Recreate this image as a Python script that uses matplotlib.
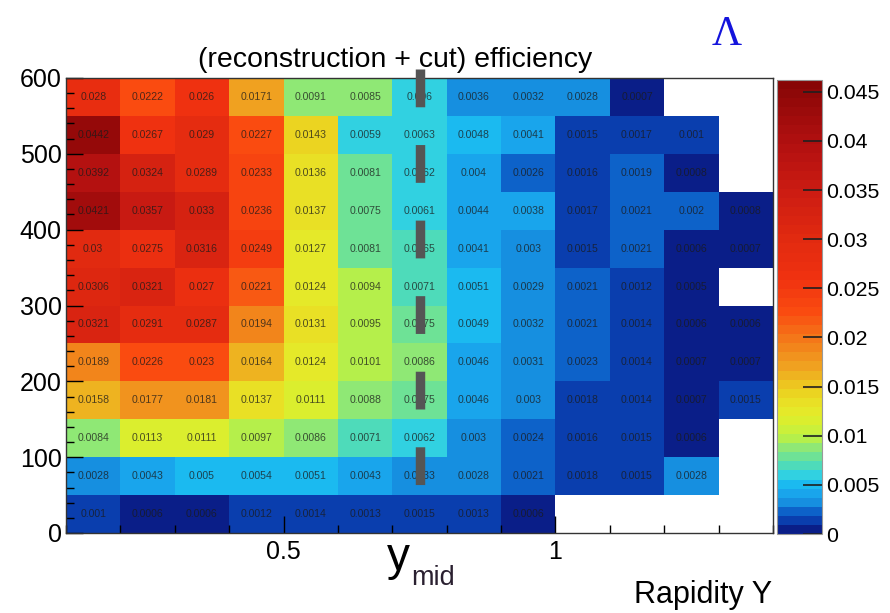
import numpy as np
import matplotlib
matplotlib.use("Agg")
import matplotlib.pyplot as plt
from matplotlib.colors import LinearSegmentedColormap, to_rgb
from matplotlib.ticker import MultipleLocator, FixedLocator, FixedFormatter

plt.rcParams['font.family'] = ['Liberation Sans', 'DejaVu Sans']

# Rapidity bin edges and transverse-momentum bin edges
y_edges = [0.1, 0.2, 0.3, 0.4, 0.5, 0.6, 0.7, 0.8, 0.9, 1.0, 1.1, 1.2, 1.3, 1.4]
pt_edges = [0, 50, 100, 150, 200, 250, 300, 350, 400, 450, 500, 550, 600]

nan = np.nan
# Efficiency per cell, rows from pt 0-50 (bottom) to 550-600 (top)
eff_pt0 = [0.001, 0.0006, 0.0006, 0.0012, 0.0014, 0.0013, 0.0015, 0.0013, 0.0006, nan, nan, nan, nan]
eff_pt1 = [0.0028, 0.0043, 0.005, 0.0054, 0.0051, 0.0043, 0.0033, 0.0028, 0.0021, 0.0018, 0.0015, 0.0028, nan]
eff_pt2 = [0.0084, 0.0113, 0.0111, 0.0097, 0.0086, 0.0071, 0.0062, 0.003, 0.0024, 0.0016, 0.0015, 0.0006, nan]
eff_pt3 = [0.0158, 0.0177, 0.0181, 0.0137, 0.0111, 0.0088, 0.0075, 0.0046, 0.003, 0.0018, 0.0014, 0.0007, 0.0015]
eff_pt4 = [0.0189, 0.0226, 0.023, 0.0164, 0.0124, 0.0101, 0.0086, 0.0046, 0.0031, 0.0023, 0.0014, 0.0007, 0.0007]
eff_pt5 = [0.0321, 0.0291, 0.0287, 0.0194, 0.0131, 0.0095, 0.0075, 0.0049, 0.0032, 0.0021, 0.0014, 0.0006, 0.0006]
eff_pt6 = [0.0306, 0.0321, 0.027, 0.0221, 0.0124, 0.0094, 0.0071, 0.0051, 0.0029, 0.0021, 0.0012, 0.0005, nan]
eff_pt7 = [0.03, 0.0275, 0.0316, 0.0249, 0.0127, 0.0081, 0.0065, 0.0041, 0.003, 0.0015, 0.0021, 0.0006, 0.0007]
eff_pt8 = [0.0421, 0.0357, 0.033, 0.0236, 0.0137, 0.0075, 0.0061, 0.0044, 0.0038, 0.0017, 0.0021, 0.002, 0.0008]
eff_pt9 = [0.0392, 0.0324, 0.0289, 0.0233, 0.0136, 0.0081, 0.0062, 0.004, 0.0026, 0.0016, 0.0019, 0.0008, nan]
eff_pt10 = [0.0442, 0.0267, 0.029, 0.0227, 0.0143, 0.0059, 0.0063, 0.0048, 0.0041, 0.0015, 0.0017, 0.001, nan]
eff_pt11 = [0.028, 0.0222, 0.026, 0.0171, 0.0091, 0.0085, 0.006, 0.0036, 0.0032, 0.0028, 0.0007, nan, nan]

y_mid = 0.75
z_max = 0.0462
title = "(reconstruction + cut) efficiency"
cbar_ticks = [0, 0.005, 0.01, 0.015, 0.02, 0.025, 0.03, 0.035, 0.04, 0.045]
cbar_labels = ["0", "0.005", "0.01", "0.015", "0.02", "0.025", "0.03", "0.035", "0.04", "0.045"]

eff = np.array([eff_pt0, eff_pt1, eff_pt2, eff_pt3, eff_pt4, eff_pt5, eff_pt6,
                eff_pt7, eff_pt8, eff_pt9, eff_pt10, eff_pt11])

# Rainbow palette with stops placed on the efficiency scale
stops = [
    (0.0000, "#0a1e88"), (0.0006, "#0a2ca0"), (0.0012, "#0a4cb8"), (0.0020, "#0e66cc"),
    (0.0028, "#168ee0"), (0.0036, "#1aa2ea"), (0.0045, "#16b4f2"), (0.0055, "#2ccfe8"),
    (0.0063, "#44d8c6"), (0.0072, "#62e0a2"), (0.0085, "#90e874"), (0.0095, "#b8f048"),
    (0.0110, "#d8f030"), (0.0125, "#e8e828"), (0.0145, "#ecd020"), (0.0170, "#f0a020"),
    (0.0200, "#f47418"), (0.0225, "#fa4c10"), (0.0260, "#f03210"), (0.0300, "#e22a10"),
    (0.0350, "#cc1c12"), (0.0400, "#b21010"), (z_max, "#880606"),
]
cmap = LinearSegmentedColormap.from_list(
    "eff", [(v / z_max, to_rgb(c)) for v, c in stops]).resampled(50)
cmap.set_bad("white")

fig = plt.figure(figsize=(8.9, 6.13), dpi=100)
ax = fig.add_axes([66 / 890, 1 - 533 / 613, 707 / 890, 455 / 613])
data = np.ma.masked_invalid(eff)
mesh = ax.pcolormesh(y_edges, pt_edges, data, cmap=cmap, vmin=0, vmax=z_max)

# Cell value labels
xc = 0.5 * (np.array(y_edges[:-1]) + np.array(y_edges[1:]))
yc = 0.5 * (np.array(pt_edges[:-1]) + np.array(pt_edges[1:]))
for i, yy in enumerate(yc):
    for j, xx in enumerate(xc):
        v = eff[i, j]
        if np.isfinite(v):
            ax.text(xx, yy, "%.3g" % v, ha="center", va="center",
                    fontsize=7.6, color="#1a1a1a", alpha=0.75)

ax.set_xlim(y_edges[0], y_edges[-1])
ax.set_ylim(pt_edges[0], pt_edges[-1])

# Mid-rapidity marker
ax.plot([y_mid, y_mid], [612, 59], color="#555555", lw=6.8,
        dashes=(4.0, 4.0), clip_on=False, solid_capstyle="butt",
        dash_capstyle="butt", zorder=5)

ax.xaxis.set_major_locator(FixedLocator([0.5, 1.0]))
ax.xaxis.set_major_formatter(FixedFormatter(["0.5", "1"]))
ax.xaxis.set_minor_locator(MultipleLocator(0.1))
ax.yaxis.set_major_locator(MultipleLocator(100))
ax.yaxis.set_minor_locator(MultipleLocator(20))
ax.tick_params(which="both", direction="in", color="black", width=1.0)
ax.tick_params(which="major", length=12, labelsize=18)
ax.tick_params(which="minor", length=6)
ax.tick_params(axis="x", pad=5)
ax.tick_params(axis="y", pad=3)
for s in ax.spines.values():
    s.set_linewidth(1.0)
    s.set_color("#333333")

# Colour scale
cax = fig.add_axes([777 / 890, 1 - 534 / 613, 45 / 890, 454 / 613])
cb = fig.colorbar(mesh, cax=cax)
cb.set_ticks(cbar_ticks)
cb.set_ticklabels(cbar_labels)
cb.ax.tick_params(direction="in", length=14, width=1.2, color="#202020",
                  labelsize=15.3, pad=3)
cb.outline.set_edgecolor("#999999")
cb.outline.set_linewidth(0.8)

fig.text(395 / 890, 1 - 60 / 613, title, ha="center", va="center", fontsize=20.5)
fig.text(727 / 890, 1 - 35 / 613, "Λ", ha="center", va="center", fontsize=30,
         color="#1414dc", family=["Liberation Serif", "DejaVu Serif"])
fig.text(387 / 890, 1 - 570 / 613, "y", ha="left", va="baseline", fontsize=33)
fig.text(411 / 890, 1 - 585 / 613, "mid", ha="left", va="baseline", fontsize=19.5,
         color="#2a2030")
fig.text(772 / 890, 1 - 603 / 613, "Rapidity Y", ha="right", va="baseline",
         fontsize=22)

fig.savefig("out.png", dpi=100)
